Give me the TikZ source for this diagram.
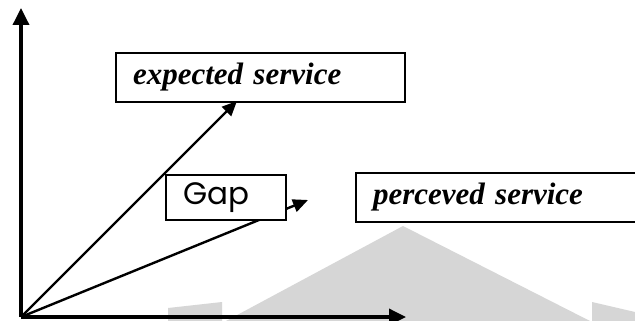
\documentclass[tikz,border=0pt]{standalone}
\usepackage{fontspec}
\setmainfont{Liberation Serif}
\newfontfamily\gapfont{Poppins}
\usetikzlibrary{arrows.meta}
\begin{document}
\begin{tikzpicture}[x=1pt,y=-1pt,
  labelbox/.style={draw=black,line width=2pt,fill=white,minimum height=49pt,
    text width=255pt,inner xsep=17pt,align=left,
    font=\fontsize{31}{34}\selectfont\bfseries\itshape},
  gapbox/.style={draw=black,line width=1.6pt,fill=white,minimum height=45pt,
    text width=86pt,inner xsep=17pt,align=left,font=\gapfont\fontsize{31}{34}\selectfont},
  axis/.style={line width=3.5pt,-{Triangle[length=17pt,width=16pt]}},
  vec/.style={line width=2.4pt,-{Triangle[length=15pt,width=13pt]}},
  wm/.style={fill=black!16,draw=none}]
\clip (0,0) rectangle (635,321);
\fill[white] (0,0) rectangle (635,321);
% watermark
\fill[wm] (403,226) -- (590,321) -- (226,321) -- cycle;
\fill[wm] (168,308) -- (222,302) -- (222,321) -- (168,321) -- cycle;
\fill[wm] (592,302) -- (635,312) -- (635,321) -- (592,321) -- cycle;
\coordinate (O) at (21,317);
\coordinate (ytip) at (21,8);
\coordinate (xtip) at (406,317);
\coordinate (t1) at (237,101);
\coordinate (t2) at (308,200);
\draw[axis] (O) -- (ytip);
\draw[axis] (O) -- (xtip);
\draw[vec] (O) -- (t1);
\draw[vec] (O) -- (t2);
\node[labelbox] (exp) at (260.5,77.5) {expected service};
\node[labelbox] (per) at (500.5,197.5) {perceved service};
\node[gapbox] (gap) at (226,197.5) {Gap};
\end{tikzpicture}
\end{document}
